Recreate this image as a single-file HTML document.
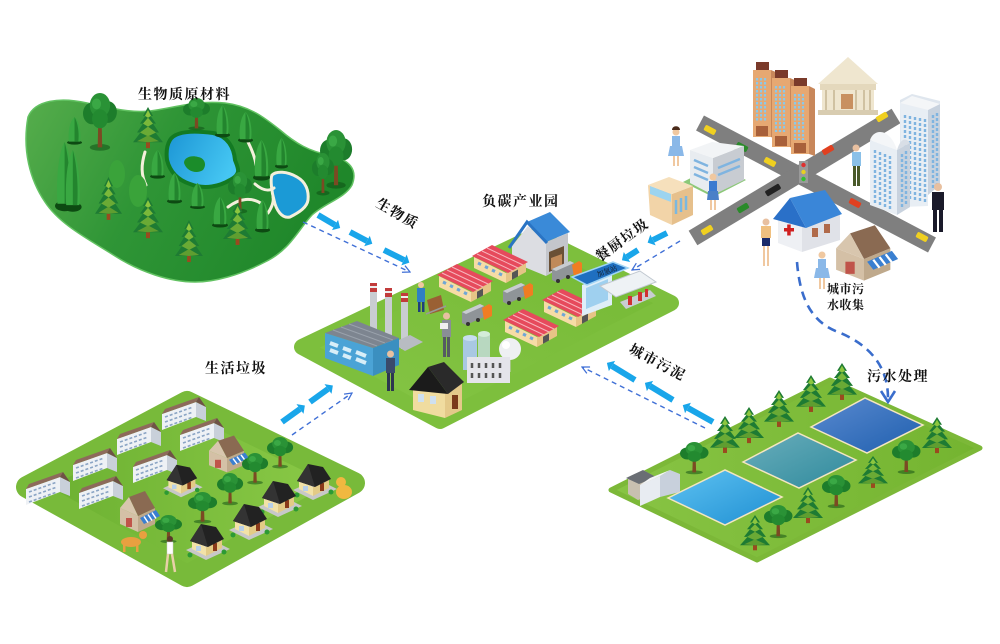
<!DOCTYPE html>
<html><head><meta charset="utf-8">
<style>
html,body{margin:0;padding:0;background:#fff;}
svg{display:block}
.t{font-family:"Liberation Serif","Noto Serif CJK SC",serif;font-size:14px;fill:#111;font-weight:bold;letter-spacing:1.5px;}
.s{font-family:"Liberation Serif","Noto Serif CJK SC",serif;font-size:12px;fill:#111;font-weight:bold;letter-spacing:0.5px;}
</style></head><body>
<svg width="1000" height="644" viewBox="0 0 1000 644" xmlns="http://www.w3.org/2000/svg">
<defs>
 <linearGradient id="gForest" x1="0" y1="0" x2="1" y2="0.3">
  <stop offset="0" stop-color="#56ad4c"/><stop offset="0.45" stop-color="#2f9536"/><stop offset="1" stop-color="#1f872a"/>
 </linearGradient>
 <linearGradient id="gLake" x1="0" y1="0" x2="1" y2="0.4">
  <stop offset="0" stop-color="#1b94d4"/><stop offset="1" stop-color="#45c6f2"/>
 </linearGradient>
 <linearGradient id="gPark" x1="0" y1="1" x2="1" y2="0">
  <stop offset="0" stop-color="#86c646"/><stop offset="1" stop-color="#74b834"/>
 </linearGradient>
 <linearGradient id="gRes" x1="0" y1="0.5" x2="1" y2="0.5">
  <stop offset="0" stop-color="#6aaf30"/><stop offset="1" stop-color="#8ccb48"/>
 </linearGradient>
 <linearGradient id="gWat" x1="0" y1="0.5" x2="1" y2="0.5">
  <stop offset="0" stop-color="#88c444"/><stop offset="1" stop-color="#74b430"/>
 </linearGradient>
 <linearGradient id="gP1" x1="0" y1="0" x2="1" y2="1"><stop offset="0" stop-color="#5ec2f2"/><stop offset="1" stop-color="#1f8fd2"/></linearGradient>
 <linearGradient id="gP2" x1="0" y1="0" x2="1" y2="1"><stop offset="0" stop-color="#6aaebc"/><stop offset="1" stop-color="#2f8a9c"/></linearGradient>
 <linearGradient id="gP3" x1="0" y1="0" x2="1" y2="1"><stop offset="0" stop-color="#5a8ad0"/><stop offset="1" stop-color="#1f5fae"/></linearGradient>
 <marker id="ah" viewBox="0 0 2 2" markerWidth="2" markerHeight="2" refX="1" refY="1" orient="auto" markerUnits="strokeWidth">
  <path d="M1,0 L2,1 L1,2 Z" fill="#19a6ea"/>
 </marker>
 <marker id="dh" viewBox="0 0 10 10" markerWidth="9" markerHeight="9" refX="9" refY="5" orient="auto" markerUnits="userSpaceOnUse">
  <path d="M1,1 L9,5 L1,9" fill="none" stroke="#3f6fd6" stroke-width="1.4"/>
 </marker>

 <g id="pine">
  <rect x="13" y="34" width="4" height="8" fill="#9a4a1f"/>
  <polygon points="15,0 20,9 17.5,9 23,17 20,17 26,26 22.5,26 30,36 0,36 7.5,26 4,26 10,17 7,17 12.5,9 10,9" fill="#1e7b33"/>
  <polygon points="15,3 18,9 15,11 12,9" fill="#8cc63f"/>
  <polygon points="15,11 20,17 15,20 10,17" fill="#7ab83a"/>
  <polygon points="15,20 23,26 15,30 7,26" fill="#6aaa35"/>
  <polygon points="15,29 26,35 15,36 4,35" fill="#5f9e30"/>
 </g>
 <g id="rt">
  <ellipse cx="15" cy="40" rx="9" ry="2.5" fill="#0c4a12" opacity="0.5"/>
  <path d="M13.5,20 L13,40 L17,40 L16.5,20Z" fill="#7b4a23"/>
  <circle cx="8" cy="15" r="8" fill="#1d7d2b"/>
  <circle cx="22" cy="14" r="8" fill="#1d7d2b"/>
  <circle cx="15" cy="9" r="9" fill="#2a9236"/>
  <circle cx="15" cy="19" r="7" fill="#238a30"/>
  <circle cx="12" cy="8" r="4" fill="#3aa845"/>
 </g>
 <g id="cyp">
  <ellipse cx="8" cy="30" rx="8" ry="2.5" fill="#0d4a12"/>
  <path d="M8,0 C14,6 15,20 14,29 L2,29 C1,20 2,6 8,0Z" fill="#39a842"/>
  <path d="M8,0 C12,8 13,20 12,29 L8,29Z" fill="#23852e"/>
 </g>
 <g id="shed">
  <polygon points="2,14 34,30 34,40 2,25" fill="#f6dca6"/>
  <polygon points="34,30 54,19 54,29 34,40" fill="#e6c486"/>
  <rect x="40" y="29" width="6" height="7" fill="#555" transform="skewY(-28) translate(0,22)"/>
  <polygon points="0,13 20,2 56,19 36,30" fill="#e64a5c"/>
  <path d="M5,11 L41,28 M10,8 L46,25 M15,5 L51,22" stroke="#f7b5bd" stroke-width="1"/>
  <path d="M6,20 L9,21.5 M13,23.5 L16,25 M20,27 L23,28.5 M27,30.5 L30,32" stroke="#6fa6d6" stroke-width="3"/>
 </g>
 <g id="truck">
  <polygon points="0,9 18,1 22,3 22,14 4,22 0,20" fill="#8f9498"/>
  <polygon points="0,9 18,1 22,3 4,11" fill="#c8ccd0"/>
  <polygon points="20,5 27,1 30,3 30,13 22,17" fill="#f07d22"/>
  <circle cx="6" cy="21" r="2" fill="#333"/><circle cx="16" cy="17" r="2" fill="#333"/>
 </g>
 <g id="apt">
  <polygon points="0,14 34,2 34,17 0,30" fill="#eef1f5"/>
  <polygon points="34,2 44,7 44,21 34,17" fill="#c9d0da"/>
  <polygon points="0,14 34,2 37,-3 3,9" fill="#8d6a5b"/>
  <polygon points="34,2 37,-3 44,7" fill="#6f5246"/>
  <path d="M3,17 L31,7 M3,22 L31,12 M3,27 L31,17" stroke="#8aa4c4" stroke-width="1.6" stroke-dasharray="3,2"/>
 </g>
 <g id="shop">
  <polygon points="2,12 20,20 20,36 2,28" fill="#d4c0a6"/>
  <polygon points="20,20 37,12 37,28 20,36" fill="#bfa98c"/>
  <polygon points="11,1 27,-5 37,12 20,20" fill="#8a6a52"/>
  <polygon points="2,12 11,1 20,20" fill="#d8c6ae"/>
  <rect x="8" y="22" width="6" height="9" fill="#c0544a"/>
  <polygon points="22,22 38,14 42,20 26,28" fill="#3a7fd0"/>
  <path d="M26,20.5 L30,26.5 M30,18.5 L34,24.5 M34,16.5 L38,22.5" stroke="#fff" stroke-width="1.5"/>
 </g>
 <g id="bh">
  <polygon points="0,28 24,17 44,27 20,38" fill="#c8c8c8"/>
  <polygon points="6,18 20,25 20,34 6,27" fill="#f2e2a8"/>
  <polygon points="20,25 36,17 36,26 20,34" fill="#e3cb86"/>
  <rect x="27" y="21" width="4" height="8" fill="#8a3a1a"/>
  <rect x="10" y="24" width="5" height="5" fill="#b8d0e8"/>
  <polygon points="4,19 15,2 30,5 38,17 22,25" fill="#222"/>
  <polygon points="15,2 22,25 4,19" fill="#333"/>
  <circle cx="4" cy="33" r="2.5" fill="#2c9a34"/><circle cx="38" cy="30" r="2.5" fill="#2c9a34"/>
 </g>
</defs>

<!-- ===== FOREST ===== -->
<path d="M28,117 C35,100 60,97 87,103 C110,108 130,113 150,111 C175,108 195,100 225,103 C250,106 265,118 280,130 C295,143 310,152 330,155 C350,160 358,170 352,185 C345,198 325,203 312,215 C298,230 290,250 265,262 C240,275 215,282 195,282 C170,282 140,272 115,256 C90,240 60,225 45,202 C30,180 22,150 28,117 Z" fill="url(#gForest)" stroke="#62c262" stroke-width="1.5"/>
<!-- lake -->
<path d="M170,140 C175,132 190,130 213,133 C228,136 234,148 235,160 C238,168 242,174 230,180 C220,186 205,190 190,184 C178,180 170,172 167,160 C166,152 167,145 170,140Z" fill="url(#gLake)" stroke="#137a22" stroke-width="4"/>
<path d="M184,163 C184,157 192,155 198,157 C205,158 207,165 203,170 C197,174 187,172 184,163Z" fill="#1b8c2a"/>
<!-- small lake -->
<path d="M272,175 C276,171 287,171 297,177 C306,182 309,191 308,200 C307,207 300,212 290,217 C282,219 276,210 274,200 C272,193 270,180 272,175Z" fill="#1b9ad6" stroke="#f4f0dc" stroke-width="3"/>
<!-- paths -->
<g fill="none" stroke="#f4f0dc" stroke-width="3" stroke-linecap="round">
 <path d="M145,152 C141,165 141,175 146,185"/>
 <path d="M248,142 C252,150 255,157 256,165"/>
 <path d="M228,207 C240,198 252,197 262,204"/>
 <path d="M255,184 C262,190 268,192 274,188"/>
 <path d="M268,213 C272,207 274,202 273,197"/>
</g>
<!-- forest trees -->
<use href="#cyp" transform="translate(67,117) scale(0.94,0.85)"/>
<use href="#cyp" transform="translate(215,105) scale(0.94,1)"/>
<use href="#cyp" transform="translate(238,112) scale(0.94,0.94)"/>
<use href="#pine" transform="translate(133,107) scale(1,0.98)"/>
<use href="#rt" transform="translate(83,93) scale(1.13,1.36)"/>
<use href="#rt" transform="translate(183,98) scale(0.9,0.76)"/>
<use href="#cyp" transform="translate(275,138) scale(0.81,0.94)"/>
<use href="#cyp" transform="translate(253,140) scale(1.06,1.25)"/>
<use href="#cyp" transform="translate(150,150) scale(0.94,0.88)"/>
<use href="#cyp" transform="translate(55,142) scale(1.2,2.13)"/>
<use href="#cyp" transform="translate(64,150) scale(1.1,1.9)"/>
<ellipse cx="117" cy="174" rx="8" ry="14" fill="#3aa33a"/>
<ellipse cx="138" cy="191" rx="9" ry="16" fill="#3aa33a"/>
<use href="#rt" transform="translate(320,130) scale(1.07,1.38)"/>
<use href="#rt" transform="translate(312,153) scale(0.73,1)"/>
<use href="#cyp" transform="translate(167,173) scale(0.94,0.94)"/>
<use href="#pine" transform="translate(95,177) scale(0.9,1.02)"/>
<use href="#cyp" transform="translate(190,183) scale(0.94,0.8)"/>
<use href="#rt" transform="translate(228,172) scale(0.8,0.98)"/>
<use href="#cyp" transform="translate(212,197) scale(1,0.94)"/>
<use href="#cyp" transform="translate(255,200) scale(0.94,1)"/>
<use href="#pine" transform="translate(133,197) scale(1,0.98)"/>
<use href="#pine" transform="translate(223,203) scale(0.97,1)"/>
<use href="#pine" transform="translate(175,220) scale(0.93,1)"/>

<!-- ===== PLATFORMS ===== -->
<polygon points="302,347 535,236 671,303 440,421" fill="url(#gPark)" stroke="#7dbf3d" stroke-width="16" stroke-linejoin="round"/>
<polygon points="27,487 187,402 354,483 187,576" fill="url(#gRes)" stroke="#78ba3a" stroke-width="22" stroke-linejoin="round"/>
<polygon points="611,490 830,380 980,448 757,560" fill="url(#gWat)" stroke="#7cb838" stroke-width="5" stroke-linejoin="round"/>

<!-- ===== ARROWS ===== -->
<g stroke="#19a6ea" stroke-width="6" marker-end="url(#ah)" fill="none">
 <line x1="318" y1="215" x2="335" y2="225"/>
 <line x1="350" y1="232" x2="367" y2="241"/>
 <line x1="384" y1="250" x2="404" y2="260"/>
 <line x1="635" y1="380" x2="612" y2="366"/>
 <line x1="673" y1="400" x2="650" y2="386"/>
 <line x1="713" y1="422" x2="688" y2="408"/>
 <line x1="667" y1="233" x2="653" y2="240"/>
 <line x1="638" y1="250" x2="627" y2="257"/>
 <line x1="282" y1="422" x2="300" y2="409"/>
 <line x1="310" y1="402" x2="328" y2="389"/>
</g>
<g stroke="#3f6fd6" stroke-width="1.4" stroke-dasharray="5,4" fill="none" marker-end="url(#dh)">
 <line x1="303" y1="222" x2="410" y2="272"/>
 <line x1="705" y1="428" x2="582" y2="367"/>
 <line x1="680" y1="241" x2="632" y2="270"/>
 <line x1="292" y1="435" x2="352" y2="393"/>
</g>
<path d="M797,262 C800,300 812,322 838,332 C868,344 888,365 888,398" fill="none" stroke="#3a6dcc" stroke-width="2.6" stroke-dasharray="9,6"/>
<path d="M881,391 L888,402 L895,391" fill="none" stroke="#3a6dcc" stroke-width="2.6"/>

<!-- ===== CENTRAL PARK ===== -->
<!-- warehouse -->
<polygon points="512,246 528,226 546,242 546,276 512,262" fill="#dcdde2"/>
<polygon points="546,242 568,233 568,264 546,276" fill="#c4c6cc"/>
<polygon points="549,252 564,246 564,266 549,272" fill="#6a5036"/>
<polygon points="551,258 562,254 562,266 551,270" fill="#c08a5a"/>
<polygon points="527,222 550,212 570,232 546,242" fill="#3a8ad8"/>
<polyline points="509,248 527,222 547,243" fill="none" stroke="#2a74c4" stroke-width="3"/>
<!-- sheds & trucks -->
<use href="#shed" transform="translate(472,243)"/>
<use href="#truck" transform="translate(552,260)"/>
<use href="#shed" transform="translate(437,262)"/>
<use href="#truck" transform="translate(503,282)"/>
<use href="#shed" transform="translate(542,287)"/>
<use href="#truck" transform="translate(462,303)"/>
<use href="#shed" transform="translate(503,307)"/>
<!-- gas station -->
<polygon points="582,285 612,273 612,305 582,316" fill="#dfeef8"/>
<polygon points="586,288 608,279 608,300 586,309" fill="#9fd0ef"/>
<polygon points="620,302 650,290 656,296 626,309" fill="#c9cdd2"/>
<polygon points="600,286 640,271 656,282 616,297" fill="#eef2f5" stroke="#c0c8d0" stroke-width="1"/>
<rect x="628" y="296" width="4" height="9" fill="#d03030"/><rect x="638" y="292" width="4" height="9" fill="#d03030"/><rect x="645" y="289" width="3" height="8" fill="#d03030"/>
<polygon points="572,277 613,262 628,268 587,285" fill="#1f6fc0" stroke="#9fd4f5" stroke-width="1.5"/>
<text x="598" y="277" transform="rotate(-20 598 277)" font-family="'Liberation Serif','Noto Serif CJK SC',serif" font-size="7" fill="#111">加氢站</text>
<!-- chimneys -->
<g>
 <rect x="370" y="283" width="7" height="60" fill="#c9cdd2"/><rect x="370" y="283" width="7" height="9" fill="#c23b3b"/><rect x="370" y="286" width="7" height="2" fill="#eee"/>
 <rect x="385" y="288" width="7" height="58" fill="#c9cdd2"/><rect x="385" y="288" width="7" height="9" fill="#c23b3b"/><rect x="385" y="291" width="7" height="2" fill="#eee"/>
 <rect x="401" y="293" width="7" height="56" fill="#c9cdd2"/><rect x="401" y="293" width="7" height="9" fill="#c23b3b"/><rect x="401" y="296" width="7" height="2" fill="#eee"/>
 <polygon points="392,343 410,335 423,342 405,351" fill="#b8bcc2"/>
</g>
<!-- factory -->
<polygon points="325,333 357,321 399,338 373,348" fill="#7d8590"/>
<path d="M333,330 L377,346 M341,327 L385,343 M349,324 L393,340" stroke="#9aa2ac" stroke-width="1"/>
<polygon points="325,333 373,348 373,376 325,358" fill="#4ba3d6"/>
<polygon points="373,348 399,338 399,365 373,376" fill="#3b8fc0"/>
<path d="M330,343 L338,346 M330,350 L338,353 M343,348 L351,351 M343,355 L351,358 M356,352 L366,356 M356,359 L366,363" stroke="#d8eef8" stroke-width="4"/>
<!-- workers -->
<g>
 <rect x="417" y="288" width="8" height="14" fill="#2f7fc4"/><circle cx="421" cy="285" r="3" fill="#f0c8a0"/><rect x="418" y="302" width="2.5" height="10" fill="#1f3f7a"/><rect x="422" y="302" width="2.5" height="10" fill="#1f3f7a"/>
 <polygon points="427,300 441,295 444,310 430,314" fill="#9a6034"/><line x1="426" y1="314" x2="446" y2="306" stroke="#999" stroke-width="1.5"/>
 <rect x="442" y="320" width="9" height="17" fill="#8a8e96"/><circle cx="446.5" cy="316" r="3.5" fill="#e8c0a0"/><rect x="443" y="337" width="3" height="20" fill="#555a62"/><rect x="447" y="337" width="3" height="20" fill="#555a62"/><rect x="440" y="323" width="8" height="6" fill="#f0f0f0"/>
 <rect x="386" y="358" width="9" height="15" fill="#3a4a6a"/><circle cx="390.5" cy="354" r="3.5" fill="#e8c0a0"/><rect x="387" y="373" width="3" height="18" fill="#2c3650"/><rect x="391" y="373" width="3" height="18" fill="#2c3650"/>
</g>
<!-- plant -->
<rect x="463" y="338" width="14" height="32" fill="#a9c8e2"/><ellipse cx="470" cy="338" rx="7" ry="3" fill="#c8def0"/>
<rect x="478" y="334" width="12" height="32" fill="#b8d8c0"/><ellipse cx="484" cy="334" rx="6" ry="3" fill="#d4ecd8"/>
<rect x="508" y="352" width="2.5" height="20" fill="#ccc"/>
<circle cx="510" cy="349" r="11" fill="#eef0f2"/><circle cx="506" cy="345" r="4" fill="#fff"/>
<polygon points="467,357 510,357 510,383 467,383" fill="#e4e4ea"/>
<path d="M472,363 L472,368 M479,363 L479,368 M486,363 L486,368 M493,363 L493,368 M500,363 L500,368 M472,373 L472,378 M479,373 L479,378 M486,373 L486,378 M493,373 L493,378 M500,373 L500,378" stroke="#555" stroke-width="2.5"/>
<!-- house -->
<polygon points="413,388 445,393 445,418 413,410" fill="#f0dca0"/>
<polygon points="445,393 462,382 462,410 445,418" fill="#e4c98a"/>
<rect x="452" y="395" width="6" height="14" fill="#7a3a1a"/>
<rect x="418" y="394" width="6" height="8" fill="#cfe0f0"/><rect x="430" y="396" width="6" height="8" fill="#cfe0f0"/>
<polygon points="409,390 428,367 448,394" fill="#1b1b1b"/>
<polygon points="428,367 444,362 464,382 448,394" fill="#2a2a2a"/>

<!-- ===== CITY ===== -->
<line x1="700" y1="123" x2="932" y2="245" stroke="#7f7f7f" stroke-width="17"/>
<line x1="693" y1="238" x2="896" y2="116" stroke="#7f7f7f" stroke-width="17"/>
<g>
 <rect x="-6" y="-3" width="12" height="6" rx="1.5" fill="#f0d020" transform="translate(710,130) rotate(28)"/>
 <rect x="-6" y="-3" width="12" height="6" rx="1.5" fill="#2a8a2a" transform="translate(742,147) rotate(28)"/>
 <rect x="-6" y="-3" width="12" height="6" rx="1.5" fill="#f0d020" transform="translate(770,162) rotate(28)"/>
 <rect x="-6" y="-3" width="12" height="6" rx="1.5" fill="#e04020" transform="translate(855,203) rotate(28)"/>
 <rect x="-6" y="-3" width="12" height="6" rx="1.5" fill="#f0d020" transform="translate(922,237) rotate(28)"/>
 <rect x="-6" y="-3" width="12" height="6" rx="1.5" fill="#f0d020" transform="translate(707,230) rotate(-31)"/>
 <rect x="-6" y="-3" width="12" height="6" rx="1.5" fill="#2a8a2a" transform="translate(743,208) rotate(-31)"/>
 <rect x="-8" y="-3" width="16" height="6" rx="1.5" fill="#222" transform="translate(773,190) rotate(-31)"/>
 <rect x="-6" y="-3" width="12" height="6" rx="1.5" fill="#e04020" transform="translate(828,150) rotate(-31)"/>
 <rect x="-6" y="-3" width="12" height="6" rx="1.5" fill="#f0d020" transform="translate(882,117) rotate(-31)"/>
</g>
<!-- traffic light -->
<rect x="799" y="161" width="9" height="22" fill="#9a9a9a"/>
<circle cx="803.5" cy="165" r="2.2" fill="#e03030"/><circle cx="803.5" cy="172" r="2.2" fill="#e8d020"/><circle cx="803.5" cy="179" r="2.2" fill="#30c030"/>
<!-- tan towers -->
<g>
 <rect x="753" y="70" width="18" height="67" fill="#e6a872"/><polygon points="771,70 778,73 778,140 771,137" fill="#c8875a"/><rect x="756" y="62" width="13" height="8" fill="#7a3a2a"/>
 <rect x="772" y="78" width="18" height="69" fill="#e6a872"/><polygon points="790,78 797,81 797,150 790,147" fill="#c8875a"/><rect x="775" y="70" width="13" height="8" fill="#7a3a2a"/>
 <rect x="791" y="86" width="18" height="68" fill="#e6a872"/><polygon points="809,86 815,89 815,156 809,154" fill="#c8875a"/><rect x="794" y="78" width="13" height="8" fill="#7a3a2a"/>
 <path d="M757,78 L757,122 M761,78 L761,122 M765,78 L765,122 M776,86 L776,132 M780,86 L780,132 M784,86 L784,132 M795,94 L795,140 M799,94 L799,140 M803,94 L803,140" stroke="#8cc8e8" stroke-width="2.2" stroke-dasharray="2.5,1.5"/>
 <rect x="756" y="126" width="12" height="10" fill="#a8603a"/><rect x="775" y="136" width="12" height="10" fill="#a8603a"/><rect x="794" y="143" width="12" height="10" fill="#a8603a"/>
</g>
<!-- bank -->
<polygon points="818,84 848,57 878,84" fill="#efe6cf"/>
<rect x="820" y="84" width="56" height="6" fill="#e4d8bc"/>
<rect x="822" y="90" width="52" height="20" fill="#efe6cf"/>
<path d="M826,90 L826,110 M834,90 L834,110 M856,90 L856,110 M864,90 L864,110 M870,90 L870,110" stroke="#d0c2a2" stroke-width="2"/>
<rect x="841" y="94" width="12" height="15" fill="#c89060"/>
<rect x="818" y="110" width="60" height="5" fill="#d8ccb0"/>
<!-- skyscrapers -->
<polygon points="900,100 912,94 940,101 940,185 928,190 902,207 900,205" fill="#dfe6ee"/>
<polygon points="900,103 928,110 928,206 902,207" fill="#e8eef4"/>
<polygon points="928,110 940,104 940,185 928,195" fill="#c8d2de"/>
<polygon points="900,103 912,96 940,104 928,110" fill="#f4f6f8"/>
<path d="M905,115 L905,198 M910,116 L910,199 M915,117 L915,200 M920,118 L920,201 M925,119 L925,202 M933,115 L933,188 M937,113 L937,186" stroke="#7fb4e0" stroke-width="2.4" stroke-dasharray="3,2"/>
<polygon points="870,140 897,150 897,215 870,205" fill="#e8eef4"/>
<polygon points="897,150 910,143 910,207 897,215" fill="#c8d2de"/>
<path d="M870,140 C874,128 890,128 897,150 Z" fill="#f4f6f8"/>
<path d="M897,150 C900,140 905,136 910,143 Z" fill="#d8dee6"/>
<path d="M875,150 L875,205 M880,152 L880,207 M885,154 L885,209 M890,156 L890,211 M902,154 L902,208 M906,151 L906,206" stroke="#7fb4e0" stroke-width="2.4" stroke-dasharray="3,2"/>
<!-- small office -->
<polygon points="683,182 713,197 746,180 716,165" fill="#8cc878"/>
<polygon points="690,150 713,158 713,195 690,183" fill="#e8ecf0"/>
<polygon points="713,158 744,146 744,180 713,195" fill="#c8ccd2"/>
<polygon points="690,150 712,142 744,146 713,158" fill="#f2f4f6"/>
<path d="M694,160 L708,166 M694,167 L708,173 M694,174 L708,180 M718,168 L740,159 M718,175 L740,166" stroke="#7fb4e0" stroke-width="2.5"/>
<!-- glass building -->
<polygon points="648,185 672,194 672,225 650,215" fill="#f2d4a8"/>
<polygon points="672,194 693,186 693,215 672,225" fill="#e6c08c"/>
<polygon points="648,185 672,194 693,186 669,177" fill="#f6e0bc"/>
<polygon points="650,186 671,194 671,202 650,194" fill="#9cd4f0"/>
<path d="M676,200 L676,214 M681,198 L681,212 M686,196 L686,210" stroke="#7ab8e0" stroke-width="2.5"/>
<!-- hospital -->
<polygon points="778,218 802,227 802,252 778,243" fill="#eef0f4"/>
<polygon points="802,227 840,214 840,240 802,252" fill="#e0e2e8"/>
<polygon points="773,219 790,198 806,228" fill="#2a70c8"/>
<polygon points="790,198 825,190 842,214 806,228" fill="#3a86d8"/>
<rect x="784" y="228" width="10" height="3.5" fill="#d02020"/><rect x="787.2" y="224.5" width="3.5" height="11" fill="#d02020"/>
<rect x="812" y="228" width="6" height="9" fill="#b06a4a"/><rect x="824" y="224" width="6" height="9" fill="#b06a4a"/>
<!-- house with awning -->
<use href="#shop" transform="translate(833,232) scale(1.55,1.35)"/>
<!-- people -->
<g>
 <circle cx="676" cy="132" r="3.5" fill="#f0c8a0"/><path d="M672,130 C672,125 680,125 680,130Z" fill="#4a2a1a"/>
 <rect x="672" y="136" width="8" height="10" fill="#8ab8e8"/><polygon points="670,146 682,146 684,156 668,156" fill="#8ab8e8"/><rect x="673" y="156" width="2" height="10" fill="#f0c8a0"/><rect x="677" y="156" width="2" height="10" fill="#f0c8a0"/>
 <circle cx="713" cy="177" r="3.5" fill="#f0c8a0"/><rect x="709" y="181" width="8" height="10" fill="#3a7ad0"/><polygon points="708,191 718,191 719,200 707,200" fill="#4a80c8"/><rect x="710" y="200" width="2" height="10" fill="#f0c8a0"/><rect x="714" y="200" width="2" height="10" fill="#f0c8a0"/>
 <circle cx="856" cy="148" r="3.5" fill="#e8c0a0"/><rect x="852" y="152" width="9" height="14" fill="#8ac0e8"/><rect x="853" y="166" width="3" height="20" fill="#4a5a2a"/><rect x="857" y="166" width="3" height="20" fill="#4a5a2a"/>
 <circle cx="938" cy="187" r="4" fill="#e8c0a0"/><rect x="932" y="192" width="12" height="18" fill="#1a1a2a"/><rect x="933" y="210" width="4" height="22" fill="#1a1a2a"/><rect x="939" y="210" width="4" height="22" fill="#1a1a2a"/>
 <circle cx="766" cy="222" r="3.5" fill="#e8c0a0"/><rect x="761" y="226" width="10" height="12" fill="#f0c080"/><rect x="762" y="238" width="8" height="8" fill="#1a2a6a"/><rect x="763" y="246" width="2" height="20" fill="#f0c8a0"/><rect x="767" y="246" width="2" height="20" fill="#f0c8a0"/>
 <circle cx="822" cy="255" r="3.5" fill="#f0c8a0"/><rect x="818" y="259" width="8" height="9" fill="#8ab8e8"/><polygon points="816,268 828,268 830,278 814,278" fill="#8ab8e8"/><rect x="819" y="278" width="2" height="11" fill="#f0c8a0"/><rect x="823" y="278" width="2" height="11" fill="#f0c8a0"/>
</g>

<!-- ===== WATER TREATMENT ===== -->
<polygon points="668,498 725,470 782,497 725,525" fill="url(#gP1)" stroke="#f4e6c0" stroke-width="1.5"/>
<polygon points="743,462 798,433 856,460 799,488" fill="url(#gP2)" stroke="#f4e6c0" stroke-width="1.5"/>
<polygon points="811,427 865,398 923,425 867,453" fill="url(#gP3)" stroke="#f4e6c0" stroke-width="1.5"/>
<use href="#pine" transform="translate(827,363) scale(1,0.88)"/>
<use href="#pine" transform="translate(796,375) scale(1,0.88)"/>
<use href="#pine" transform="translate(764,390) scale(1,0.88)"/>
<use href="#pine" transform="translate(734,407) scale(1,0.86)"/>
<use href="#pine" transform="translate(710,416) scale(1,0.88)"/>
<use href="#pine" transform="translate(922,417) scale(1,0.86)"/>
<use href="#rt" transform="translate(680,442) scale(0.95,0.76)"/>
<use href="#rt" transform="translate(892,440) scale(0.95,0.8)"/>
<use href="#pine" transform="translate(858,456) scale(1,0.76)"/>
<use href="#rt" transform="translate(822,475) scale(0.95,0.78)"/>
<use href="#pine" transform="translate(793,487) scale(1,0.86)"/>
<use href="#rt" transform="translate(764,505) scale(0.95,0.78)"/>
<use href="#pine" transform="translate(740,515) scale(1,0.84)"/>
<!-- treatment building -->
<polygon points="628,478 645,471 655,477 655,493 638,500 628,494" fill="#c8c0b0"/>
<polygon points="626,478 643,470 656,477 639,484" fill="#6a6e74"/>
<polygon points="640,485 660,476 660,497 640,506" fill="#e8ecf2"/>
<polygon points="660,476 670,470 680,474 680,492 660,497" fill="#c8d0dc"/>
<polygon points="640,485 650,478 670,470 660,476" fill="#f4f6f8"/>

<!-- ===== RESIDENTIAL ===== -->
<use href="#apt" transform="translate(162,400)"/>
<use href="#apt" transform="translate(117,425)"/>
<use href="#apt" transform="translate(180,421)"/>
<use href="#shop" transform="translate(207,440) scale(1,0.9)"/>
<use href="#apt" transform="translate(73,451)"/>
<use href="#apt" transform="translate(133,453)"/>
<use href="#rt" transform="translate(267,437) scale(0.87,0.74)"/>
<use href="#rt" transform="translate(242,453) scale(0.87,0.74)"/>
<use href="#apt" transform="translate(26,475)"/>
<use href="#apt" transform="translate(79,479)"/>
<use href="#bh" transform="translate(163,463) scale(0.9,0.9)"/>
<use href="#bh" transform="translate(293,462)"/>
<use href="#rt" transform="translate(217,473) scale(0.87,0.76)"/>
<use href="#bh" transform="translate(258,479)"/>
<use href="#shop" transform="translate(118,496)"/>
<use href="#rt" transform="translate(188,492) scale(0.97,0.74)"/>
<use href="#bh" transform="translate(229,502)"/>
<use href="#rt" transform="translate(155,515) scale(0.9,0.66)"/>
<use href="#bh" transform="translate(186,522)"/>
<!-- dog -->
<ellipse cx="131" cy="542" rx="10" ry="5" fill="#e8a040"/><circle cx="143" cy="535" r="4" fill="#e8a040"/>
<rect x="123" y="544" width="2.5" height="8" fill="#e8a040"/><rect x="136" y="544" width="2.5" height="8" fill="#e8a040"/>
<!-- cat -->
<ellipse cx="344" cy="492" rx="8" ry="7" fill="#f0b840"/><circle cx="341" cy="482" r="5" fill="#f0b840"/>
<!-- woman -->
<circle cx="170" cy="539" r="3" fill="#5a3a2a"/><rect x="167" y="542" width="6" height="12" fill="#fff" stroke="#ccc" stroke-width="0.5"/>
<path d="M168,554 L166,572 M172,554 L175,572" stroke="#e8d0a8" stroke-width="2.5"/>

<!-- ===== LABELS ===== -->
<text class="t" x="138" y="99">生物质原材料</text>
<text class="t" x="482" y="206">负碳产业园</text>
<text class="t" x="205" y="373">生活垃圾</text>
<text class="t" x="867" y="381">污水处理</text>
<text class="t" x="0" y="0" transform="translate(375,206) rotate(30)">生物质</text>
<text class="t" x="0" y="0" transform="translate(628,352) rotate(28)">城市污泥</text>
<text class="t" x="0" y="0" transform="translate(600,262) rotate(-36)">餐厨垃圾</text>
<text class="s" x="827" y="293">城市污</text>
<text class="s" x="827" y="309">水收集</text>
</svg>
</body></html>
